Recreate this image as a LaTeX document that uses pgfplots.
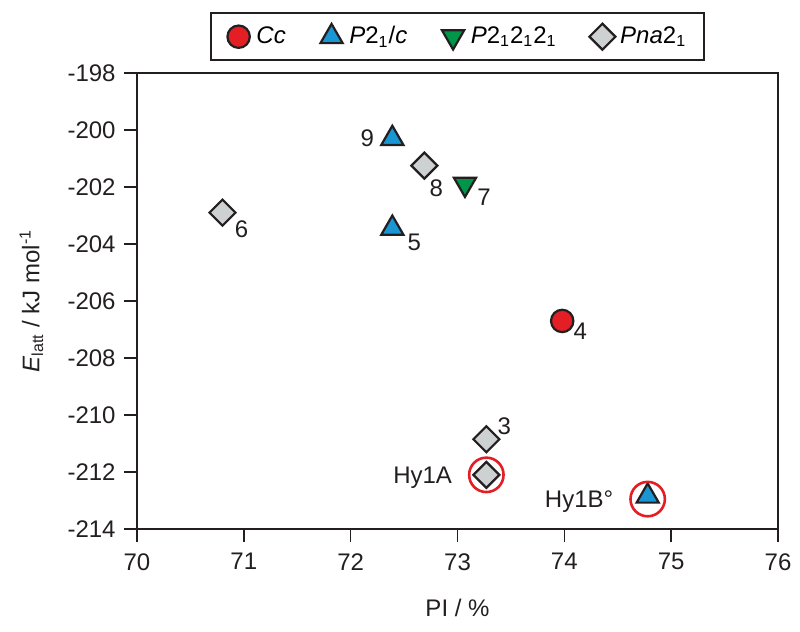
\documentclass[border=0pt]{standalone}
\usepackage{fontspec}
\setmainfont{Liberation Sans}
\usepackage{pgfplots}
\pgfplotsset{compat=1.18}

\definecolor{CcRed}{HTML}{E31E24}
\definecolor{PBlue}{HTML}{1A96D4}
\definecolor{PGreen}{HTML}{00964A}
\definecolor{PGray}{HTML}{CDD1D1}
\definecolor{Edge}{HTML}{231F20}

\begin{document}
\fontsize{12}{14}\selectfont
\begin{tikzpicture}
  \begin{axis}[
    scale only axis,
    width=320.5pt, height=228pt,
    xmin=70, xmax=76, ymin=-214, ymax=-198,
    xtick={70,...,76}, ytick={-214,-212,...,-198},
    yticklabels={{\mbox{-}214},{\mbox{-}212},{\mbox{-}210},{\mbox{-}208},{\mbox{-}206},
      {\mbox{-}204},{\mbox{-}202},{\mbox{-}200},{\mbox{-}198}},
    axis line style={Edge, line width=0.8pt},
    tick style={Edge, line width=0.8pt},
    tick align=outside, major tick length=6.5pt,
    xtick pos=bottom, ytick pos=left,
    /pgf/number format/assume math mode=true,
    ticklabel style={font=\fontsize{12}{14}\selectfont, text=Edge},
    xticklabel style={yshift=-1.5pt},
    label style={font=\fontsize{12}{14}\selectfont, text=Edge},
    xlabel={PI / \%},
    xlabel style={yshift=-6pt},
    ylabel={\textit{E}\textsubscript{latt} / kJ mol\textsuperscript{-1}},
    ylabel style={yshift=4pt},
    legend columns=4,
    legend image code/.code={%
      \draw[#1] plot coordinates {(0pt,0pt)};
      \path (-6.5pt,0pt) (6.5pt,0pt);},
    legend style={at={(0.5,1)}, anchor=south, yshift=6pt,
      draw=Edge, line width=0.8pt, font=\fontsize{12}{14}\selectfont,
      inner xsep=7pt, inner ysep=4.5pt,
      /tikz/every even column/.append style={column sep=14pt}},
    legend cell align=left,
  ]
    % Cc
    \addplot[only marks, mark=*, mark size=5.6pt,
      mark options={fill=CcRed, draw=Edge, line width=1.1pt}]
      coordinates {(73.98,-206.7)};
    \addlegendentry{\textit{Cc}}
    % P2_1/c
    \addplot[only marks, mark=triangle*, mark size=6.4pt,
      mark options={fill=PBlue, draw=Edge, line width=1.1pt}]
      coordinates {(72.39,-200.3) (72.39,-203.45) (74.78,-212.85)};
    \addlegendentry{\textit{P}2\textsubscript{1}/\textit{c}}
    % P2_12_12_1
    \addplot[only marks, mark=triangle*, mark size=6.4pt,
      mark options={rotate=180, fill=PGreen, draw=Edge, line width=1.1pt}]
      coordinates {(73.07,-201.9)};
    \addlegendentry{\textit{P}2\textsubscript{1}2\textsubscript{1}2\textsubscript{1}}
    % Pna2_1
    \addplot[only marks, mark=square*, mark size=4.6pt,
      mark options={rotate=45, fill=PGray, draw=Edge, line width=1.1pt}]
      coordinates {(70.8,-202.9) (72.69,-201.25) (73.27,-210.85) (73.27,-212.1)};
    \addlegendentry{\textit{Pna}2\textsubscript{1}}
    % highlight rings
    \addplot[only marks, mark=o, mark size=8.6pt,
      mark options={draw=CcRed, line width=1.3pt}, forget plot]
      coordinates {(73.27,-212.1) (74.78,-212.95)};

    \node[text=Edge] at (axis cs:72.39,-200.3) [xshift=-12.5pt] {9};
    \node[text=Edge] at (axis cs:72.69,-201.25) [xshift=6pt, yshift=-11.5pt] {8};
    \node[text=Edge] at (axis cs:73.07,-201.9) [xshift=9.5pt, yshift=-6.5pt] {7};
    \node[text=Edge] at (axis cs:70.8,-202.9) [xshift=9.5pt, yshift=-8.5pt] {6};
    \node[text=Edge] at (axis cs:72.39,-203.45) [xshift=11pt, yshift=-7pt] {5};
    \node[text=Edge] at (axis cs:73.98,-206.7) [xshift=9pt, yshift=-5pt] {4};
    \node[text=Edge] at (axis cs:73.27,-210.85) [xshift=9pt, yshift=6.5pt] {3};
    \node[text=Edge, anchor=east] at (axis cs:73.27,-212.1) [xshift=-13pt, yshift=-1.5pt] {Hy1A};
    \node[text=Edge, anchor=east] at (axis cs:74.78,-212.95) [xshift=-13pt, yshift=-1.5pt] {Hy1B°};
  \end{axis}
  \pgfresetboundingbox
  \path[use as bounding box] ([shift={(-68.5pt,-51pt)}]current axis.south west)
    rectangle ([shift={(11pt,36.5pt)}]current axis.north east);
\end{tikzpicture}
\end{document}
